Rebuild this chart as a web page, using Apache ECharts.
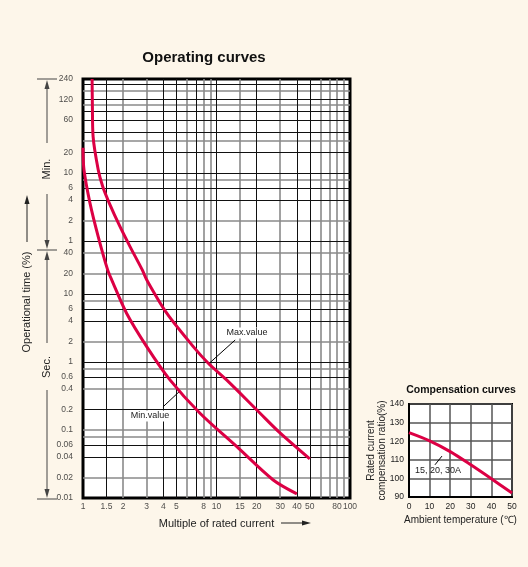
<!DOCTYPE html>
<html><head><meta charset="utf-8">
<script src="https://cdn.jsdelivr.net/npm/echarts@6/dist/echarts.min.js"></script>
<style>html,body{margin:0;padding:0;background:#fdf6ea;}#c{width:528px;height:567px;}</style>
</head><body><div id="c"></div>
<script>
// ---------- data ----------
// Operating curves: [multiple of rated current, operating time in seconds]
const maxCurve = [[1.17,14400],[1.175,6400],[1.19,2060],[1.30,667],[1.405,378],[1.57,218],[1.89,98],[2.25,49.6],[2.78,22.5],[3.0,16.1],[4.24,5.2],[6.7,1.68],[8.68,0.957],[11.9,0.544],[21.2,0.176],[29.9,0.0904],[50,0.0375]];
const minCurve = [[1.0,1403],[1.017,667],[1.128,216],[1.30,69.6],[1.53,22.5],[1.64,16.1],[2.12,5.2],[3.0,1.68],[4.48,0.544],[7.52,0.176],[14.2,0.0568],[26.6,0.0184],[40,0.0115]];
// tick labels
const xTickLabels = [1,1.5,2,3,4,5,8,10,15,20,30,40,50,80,100];
const yMinuteLabels = [240,120,60,20,10,6,4,2,1];          // minutes
const ySecondLabels = [40,20,10,6,4,2,1,0.6,0.4,0.2,0.1,0.06,0.04,0.02,0.01]; // seconds
// grid lines (axis values)
const gridXDark = [1.5,4,5,7,10,20,40,50];
const gridXLight = [2,3,6,8,9,15,30,60,70,80,90];
const gridYDark = [0.04,0.06,0.2,0.6,1,4,6,10,60,240,360,600,1200,2400,3600,4800,7200,12000];
const gridYLight = [0.02,0.08,0.1,0.4,0.8,2,8,20,40,120,480,1800,6000,9600];
// Compensation curves
const temps = [0,10,20,30,40,50];
const ratios = [124.6,120.2,114.4,107.3,99.8,92.1];

// ---------- chart ----------
const FONT = "'Liberation Sans Narrow','Liberation Sans',Arial,sans-serif";
const RED = '#dc0044';
const chart = echarts.init(document.getElementById('c'));

function gridSeries(xs, ys, color, width){
  return {type:'line', xAxisIndex:0, yAxisIndex:0, data:[], silent:true, z:1,
    markLine:{silent:true, symbol:['none','none'], animation:false, label:{show:false},
      lineStyle:{color:color, width:width, type:'solid'},
      emphasis:{disabled:true},
      data: xs.map(v=>({xAxis:v})).concat(ys.map(v=>({yAxis:v})))}};
}
function labelSeries(data, pos, dist){
  return {type:'scatter', xAxisIndex:0, yAxisIndex:0, symbolSize:0, silent:true, clip:false, z:10,
    data: data, label:{show:true, position:pos, distance:dist, formatter:'{b}',
      fontSize:8.5, color:'#222', fontFamily:FONT}};
}

const option = {
  backgroundColor:'#fdf6ea',
  animation:false,
  grid:[
    {left:83, top:79, width:267, height:419, show:true, backgroundColor:'#fff', borderColor:'#000', borderWidth:3},
    {left:409, top:404, width:103, height:93, show:true, backgroundColor:'#fff', borderColor:'#000', borderWidth:2}
  ],
  xAxis:[
    {gridIndex:0, type:'log', logBase:10, min:1, max:100,
     axisLine:{show:false}, axisTick:{show:false}, axisLabel:{show:false}, splitLine:{show:false},
     name:'Multiple of rated current', nameLocation:'middle', nameGap:20,
     nameTextStyle:{fontSize:11, color:'#222', fontFamily:FONT}},
    {gridIndex:1, type:'value', min:0, max:50, interval:10,
     axisLine:{show:true, lineStyle:{color:'#000', width:2}}, axisTick:{show:false},
     axisLabel:{fontSize:8.5, color:'#222', margin:5, fontFamily:FONT},
     splitLine:{show:true, lineStyle:{color:'#555', width:1.5}},
     name:'Ambient temperature (\u2103)', nameLocation:'middle', nameGap:18, nameMoveOverlap:false,
     nameTextStyle:{fontSize:10, color:'#222', fontFamily:FONT}}
  ],
  yAxis:[
    {gridIndex:0, type:'log', logBase:10, min:0.01, max:14400,
     axisLine:{show:false}, axisTick:{show:false}, axisLabel:{show:false}, splitLine:{show:false}},
    {gridIndex:1, type:'value', min:90, max:140, interval:10,
     axisLine:{show:true, lineStyle:{color:'#000', width:2}}, axisTick:{show:false},
     axisLabel:{fontSize:8.5, color:'#222', margin:5, fontFamily:FONT},
     splitLine:{show:true, lineStyle:{color:'#555', width:1.5}},
     name:'Rated current\ncompensation ratio(%)', nameLocation:'middle', nameGap:21, nameMoveOverlap:false,
     nameTextStyle:{fontSize:10, lineHeight:11, color:'#222', fontFamily:FONT}}
  ],
  series:[
    gridSeries(gridXLight, gridYLight, '#8a8a8a', 1.6),
    gridSeries(gridXDark, gridYDark, '#111', 1),
    labelSeries(xTickLabels.map(v=>({name:String(v), value:[v,0.01]})), 'bottom', 4),
    labelSeries(yMinuteLabels.map(v=>({name:String(v), value:[1,v*60]})), 'left', 10),
    labelSeries(ySecondLabels.map(v=>({name:String(v), value:[1,v]})), 'left', 10),
    {name:'Max.value', type:'line', xAxisIndex:0, yAxisIndex:0, data:maxCurve, smooth:0.3,
     symbol:'none', lineStyle:{color:RED, width:3}, z:5,
     markLine:{silent:true, symbol:['none','none'], label:{show:false}, lineStyle:{color:'#000', width:1, type:'solid'},
       data:[[{coord:[8.8,0.95]},{coord:[13.8,2.1]}]]}},
    {name:'Min.value', type:'line', xAxisIndex:0, yAxisIndex:0, data:minCurve, smooth:0.3,
     symbol:'none', lineStyle:{color:RED, width:3}, z:5,
     markLine:{silent:true, symbol:['none','none'], label:{show:false}, lineStyle:{color:'#000', width:1, type:'solid'},
       data:[[{coord:[5.33,0.375]},{coord:[3.97,0.218]}]]}},
    {name:'15, 20, 30A', type:'line', xAxisIndex:1, yAxisIndex:1, data:temps.map((t,i)=>[t,ratios[i]]), smooth:0.3,
     symbol:'none', lineStyle:{color:RED, width:3}, z:5,
     markLine:{silent:true, symbol:['none','none'], label:{show:false}, lineStyle:{color:'#000', width:1, type:'solid'},
       data:[[{coord:[12.6,107.3]},{coord:[16,112]}]]}}
  ],
  graphic:[
    {type:'text', x:204, y:58, style:{text:'Operating curves', fontSize:15, fontWeight:'bold', fontFamily:FONT, fill:'#111', align:'center', verticalAlign:'middle', textAlign:'center', textVerticalAlign:'middle'}},
    {type:'text', x:461, y:390, style:{text:'Compensation curves', fontSize:10.5, fontWeight:'bold', fontFamily:FONT, fill:'#111', align:'center', verticalAlign:'middle', textAlign:'center', textVerticalAlign:'middle'}},
    {type:'text', x:247, y:333, z:20, style:{text:'Max.value', fontSize:9, fontFamily:FONT, fill:'#222', backgroundColor:'#fff', padding:[1,1], align:'center', verticalAlign:'middle', textAlign:'center', textVerticalAlign:'middle'}},
    {type:'text', x:150, y:416, z:20, style:{text:'Min.value', fontSize:9, fontFamily:FONT, fill:'#222', backgroundColor:'#fff', padding:[1,1], align:'center', verticalAlign:'middle', textAlign:'center', textVerticalAlign:'middle'}},
    {type:'text', x:438, y:471, z:20, style:{text:'15, 20, 30A', fontSize:9, fontFamily:FONT, fill:'#222', align:'center', verticalAlign:'middle', textAlign:'center', textVerticalAlign:'middle'}},
    // x-axis name arrow
    {type:'line', shape:{x1:281, y1:523, x2:304, y2:523}, style:{stroke:'#222', lineWidth:1}},
    {type:'polygon', shape:{points:[[311,523],[302,520.5],[302,525.5]]}, style:{fill:'#222'}},
    // y-axis name and arrow
    {type:'text', x:27, y:302, rotation:Math.PI/2, style:{text:'Operational time (%)', fontSize:11, fontFamily:FONT, fill:'#222', align:'center', verticalAlign:'middle', textAlign:'center', textVerticalAlign:'middle'}},
    {type:'line', shape:{x1:27, y1:202, x2:27, y2:242}, style:{stroke:'#222', lineWidth:1}},
    {type:'polygon', shape:{points:[[27,195],[24.5,204],[29.5,204]]}, style:{fill:'#222'}},
    // Min. / Sec. brackets
    {type:'line', shape:{x1:37, y1:79, x2:57, y2:79}, style:{stroke:'#444', lineWidth:1}},
    {type:'polygon', shape:{points:[[47,80],[44.5,89],[49.5,89]]}, style:{fill:'#444'}},
    {type:'line', shape:{x1:47, y1:88, x2:47, y2:143}, style:{stroke:'#444', lineWidth:1}},
    {type:'text', x:47, y:169, rotation:Math.PI/2, style:{text:'Min.', fontSize:11, fontFamily:FONT, fill:'#222', align:'center', verticalAlign:'middle', textAlign:'center', textVerticalAlign:'middle'}},
    {type:'line', shape:{x1:47, y1:194, x2:47, y2:242}, style:{stroke:'#444', lineWidth:1}},
    {type:'polygon', shape:{points:[[47,249],[44.5,240],[49.5,240]]}, style:{fill:'#444'}},
    {type:'line', shape:{x1:37, y1:250, x2:57, y2:250}, style:{stroke:'#444', lineWidth:1}},
    {type:'polygon', shape:{points:[[47,251],[44.5,260],[49.5,260]]}, style:{fill:'#444'}},
    {type:'line', shape:{x1:47, y1:259, x2:47, y2:343}, style:{stroke:'#444', lineWidth:1}},
    {type:'text', x:47, y:367, rotation:Math.PI/2, style:{text:'Sec.', fontSize:11, fontFamily:FONT, fill:'#222', align:'center', verticalAlign:'middle', textAlign:'center', textVerticalAlign:'middle'}},
    {type:'line', shape:{x1:47, y1:390, x2:47, y2:491}, style:{stroke:'#444', lineWidth:1}},
    {type:'polygon', shape:{points:[[47,498],[44.5,489],[49.5,489]]}, style:{fill:'#444'}},
    {type:'line', shape:{x1:37, y1:499, x2:57, y2:499}, style:{stroke:'#444', lineWidth:1}}
  ]
};
chart.setOption(option);
</script></body></html>
